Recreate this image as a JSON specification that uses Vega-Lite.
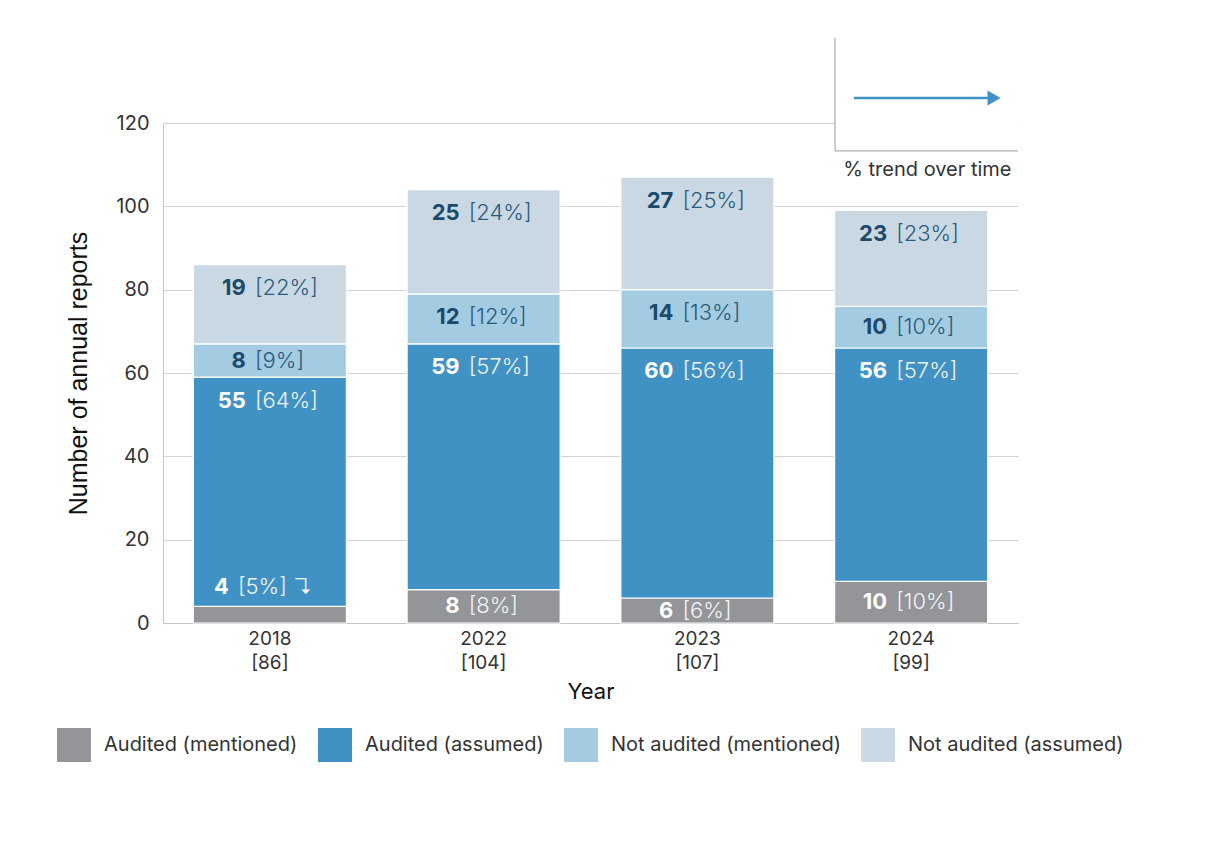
{
  "$schema": "https://vega.github.io/schema/vega-lite/v6.json",
  "width": 855,
  "height": 500,
  "autosize": {"type": "none"},
  "padding": {"left": 163, "top": 123, "right": 194, "bottom": 224},
  "background": "white",
  "config": {"view": {"stroke": null}, "font": "Inter"},
  "layer": [
    {
      "data": {
        "values": [
          {"period": "2018 [86]", "category": "Audited (mentioned)", "count": 4, "pct": 5},
          {"period": "2018 [86]", "category": "Audited (assumed)", "count": 55, "pct": 64},
          {"period": "2018 [86]", "category": "Not audited (mentioned)", "count": 8, "pct": 9},
          {"period": "2018 [86]", "category": "Not audited (assumed)", "count": 19, "pct": 22},
          {"period": "2022 [104]", "category": "Audited (mentioned)", "count": 8, "pct": 8},
          {"period": "2022 [104]", "category": "Audited (assumed)", "count": 59, "pct": 57},
          {"period": "2022 [104]", "category": "Not audited (mentioned)", "count": 12, "pct": 12},
          {"period": "2022 [104]", "category": "Not audited (assumed)", "count": 25, "pct": 24},
          {"period": "2023 [107]", "category": "Audited (mentioned)", "count": 6, "pct": 6},
          {"period": "2023 [107]", "category": "Audited (assumed)", "count": 60, "pct": 56},
          {"period": "2023 [107]", "category": "Not audited (mentioned)", "count": 14, "pct": 13},
          {"period": "2023 [107]", "category": "Not audited (assumed)", "count": 27, "pct": 25},
          {"period": "2024 [99]", "category": "Audited (mentioned)", "count": 10, "pct": 10},
          {"period": "2024 [99]", "category": "Audited (assumed)", "count": 56, "pct": 57},
          {"period": "2024 [99]", "category": "Not audited (mentioned)", "count": 10, "pct": 10},
          {"period": "2024 [99]", "category": "Not audited (assumed)", "count": 23, "pct": 23}
        ]
      },
      "transform": [
        {"calculate": "indexof(['Audited (mentioned)','Audited (assumed)','Not audited (mentioned)','Not audited (assumed)'], datum.category)", "as": "rank"},
        {"stack": "count", "groupby": ["period"], "sort": [{"field": "rank", "order": "ascending"}], "as": ["y0", "y1"]},
        {"calculate": "(datum.y1 - datum.y0) < 5", "as": "small"},
        {"calculate": "datum.small ? datum.y1 + 4.7 : max((datum.y0 + datum.y1) / 2, datum.y1 - 5.6)", "as": "labelY"},
        {"calculate": "'[' + datum.pct + '%]' + (datum.small ? '  ↴' : '')", "as": "pctLabel"}
      ],
      "layer": [
        {
          "mark": {"type": "bar", "stroke": "white", "strokeWidth": 1.2},
          "encoding": {
            "x": {
              "field": "period", "type": "nominal", "sort": null, "title": "Year",
              "scale": {"paddingInner": 0.284, "paddingOuter": 0.142},
              "axis": {
                "labelExpr": "split(datum.label, ' ')", "labelAngle": 0, "labelFontSize": 19, "labelLineHeight": 24,
                "labelColor": "#333", "labelPadding": 6, "ticks": false, "domainColor": "#c4c4c4",
                "titleFontSize": 22, "titleFontWeight": "normal", "titleColor": "#111", "titlePadding": 9
              }
            },
            "y": {
              "field": "y0", "type": "quantitative", "title": "Number of annual reports",
              "scale": {"domain": [0, 120], "nice": false},
              "axis": {
                "values": [0, 20, 40, 60, 80, 100, 120], "ticks": false, "grid": true, "gridColor": "#d4d4d4",
                "domainColor": "#c4c4c4", "labelFontSize": 20, "labelColor": "#333", "labelPadding": 14,
                "titleFont": "Liberation Sans", "titleFontSize": 25, "titleFontWeight": "normal", "titleColor": "#111", "titlePadding": 24
              }
            },
            "y2": {"field": "y1"},
            "color": {
              "field": "category", "type": "nominal",
              "scale": {
                "domain": ["Audited (mentioned)", "Audited (assumed)", "Not audited (mentioned)", "Not audited (assumed)"],
                "range": ["#939598", "#4192C4", "#A3CBE1", "#C9D8E3"]
              },
              "legend": {
                "orient": "none", "legendX": -106, "legendY": 605, "direction": "horizontal", "title": null,
                "symbolType": "square", "symbolSize": 1156, "symbolStrokeWidth": 0, "symbolOpacity": 1,
                "labelFontSize": 20, "labelColor": "#333", "labelOffset": 13, "columnPadding": 20, "padding": 0, "labelLimit": 400
              }
            }
          }
        },
        {
          "transform": [{"filter": "!datum.small"}],
          "mark": {"type": "text", "align": "right", "baseline": "middle", "dx": -24, "fontSize": 22, "fontWeight": 700},
          "encoding": {
            "x": {"field": "period", "type": "nominal", "sort": null},
            "y": {"field": "labelY", "type": "quantitative"},
            "text": {"field": "count"},
            "color": {"condition": {"test": "datum.rank < 2", "value": "white"}, "value": "#1B4A6B"}
          }
        },
        {
          "transform": [{"filter": "!datum.small"}],
          "mark": {"type": "text", "align": "left", "baseline": "middle", "dx": -15, "fontSize": 22, "fontWeight": 300},
          "encoding": {
            "x": {"field": "period", "type": "nominal", "sort": null},
            "y": {"field": "labelY", "type": "quantitative"},
            "text": {"field": "pctLabel"},
            "color": {"condition": {"test": "datum.rank < 2", "value": "#F2F4F6"}, "value": "#2A5C7E"}
          }
        },
        {
          "transform": [{"filter": "datum.small"}],
          "mark": {"type": "text", "align": "right", "baseline": "middle", "dx": -41, "fontSize": 22, "fontWeight": 700, "color": "white"},
          "encoding": {
            "x": {"field": "period", "type": "nominal", "sort": null},
            "y": {"field": "labelY", "type": "quantitative"},
            "text": {"field": "count"}
          }
        },
        {
          "transform": [{"filter": "datum.small"}],
          "mark": {"type": "text", "align": "left", "baseline": "middle", "dx": -32, "fontSize": 22, "fontWeight": 300, "color": "#F2F4F6"},
          "encoding": {
            "x": {"field": "period", "type": "nominal", "sort": null},
            "y": {"field": "labelY", "type": "quantitative"},
            "text": {"field": "pctLabel"}
          }
        }
      ]
    },
    {
      "data": {"values": [{}]},
      "layer": [
        {
          "mark": {"type": "rect", "fill": "white"},
          "encoding": {
            "x": {"datum": 0.786, "type": "quantitative", "scale": {"domain": [0, 1], "nice": false, "zero": false}, "axis": null},
            "x2": {"datum": 1.0},
            "y": {"datum": 113.3, "type": "quantitative", "scale": {"domain": [0, 120], "nice": false}, "axis": null},
            "y2": {"datum": 140.4}
          }
        },
        {
          "mark": {"type": "rule", "stroke": "#999", "strokeWidth": 1},
          "encoding": {
            "x": {"datum": 0.786, "type": "quantitative"},
            "y": {"datum": 113.3, "type": "quantitative"},
            "y2": {"datum": 140.4}
          }
        },
        {
          "mark": {"type": "rule", "stroke": "#999", "strokeWidth": 1},
          "encoding": {
            "x": {"datum": 0.786, "type": "quantitative"},
            "x2": {"datum": 1.0},
            "y": {"datum": 113.3, "type": "quantitative"}
          }
        },
        {
          "mark": {"type": "rule", "stroke": "#4192C4", "strokeWidth": 2.5},
          "encoding": {
            "x": {"datum": 0.808, "type": "quantitative"},
            "x2": {"datum": 0.966},
            "y": {"datum": 126, "type": "quantitative"}
          }
        },
        {
          "mark": {"type": "point", "shape": "triangle-right", "filled": true, "size": 230, "color": "#4192C4", "opacity": 1},
          "encoding": {
            "x": {"datum": 0.972, "type": "quantitative"},
            "y": {"datum": 126, "type": "quantitative"}
          }
        },
        {
          "mark": {"type": "text", "text": "% trend over time", "fontSize": 20, "color": "#333", "align": "center", "baseline": "middle"},
          "encoding": {
            "x": {"datum": 0.894, "type": "quantitative"},
            "y": {"datum": 108.7, "type": "quantitative"}
          }
        }
      ]
    }
  ],
  "resolve": {"scale": {"x": "independent", "y": "independent", "color": "independent"}}
}
